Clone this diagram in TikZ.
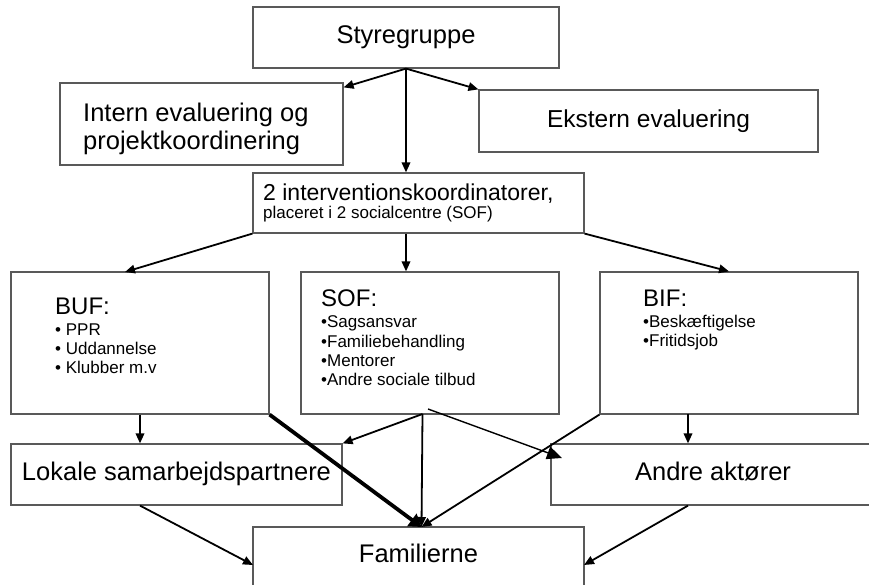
\documentclass[tikz,border=0pt]{standalone}
\usepackage{fontspec}
\setmainfont{Liberation Sans}
\usetikzlibrary{arrows.meta,calc}
\begin{document}
\begin{tikzpicture}[x=1pt,y=-1pt,
  box/.style={draw=black!65, line width=1.2pt, inner sep=0pt, anchor=center},
  big/.style={font=\fontsize{25.5}{28}\selectfont, text height=18.3pt, text depth=5.4pt},
  arr/.style={line width=1.8pt, -{Triangle[length=10pt,width=8.5pt]}},
  thickarr/.style={line width=3.8pt, -{Triangle[length=12pt,width=15pt]}},
  thinarr/.style={line width=1.4pt, -{Triangle[length=15pt,width=13pt]}},
  txt/.style={inner sep=0pt, anchor=north west, align=left},
]
\useasboundingbox (0,0) rectangle (869,585);
\fill[white] (0,0) rectangle (869,585);

% boxes
\node[box, big, minimum width=306pt, minimum height=61pt] (sty) at (406,37.5) {Styregruppe};
\node[box, minimum width=283pt, minimum height=82pt] (intern) at (201.5,124) {};
\node[box, font=\fontsize{24.5}{28}\selectfont, text height=17.6pt, text depth=5.2pt, minimum width=339pt, minimum height=62pt] (ekst) at (648.5,121) {Ekstern evaluering};
\node[box, minimum width=331pt, minimum height=60pt] (inter) at (418.5,203) {};
\node[box, minimum width=258pt, minimum height=142pt] (buf) at (140,343) {};
\node[box, minimum width=258pt, minimum height=142pt] (sof) at (430,343) {};
\node[box, minimum width=258pt, minimum height=142pt] (bif) at (729,343) {};
\node[box, big, minimum width=331pt, minimum height=61pt] (lok) at (176.5,474.5) {Lokale samarbejdspartnere};
\node[box, big, minimum width=324pt, minimum height=61pt] (andre) at (713,474.5) {Andre aktører};
\node[box, big, minimum width=331pt, minimum height=59pt] (fam) at (418.5,556.5) {Familierne};

% texts inside boxes
\node[txt, font=\fontsize{25.5}{27.5}\selectfont] (interntxt) at (83,103.3) {Intern evaluering og\\projektkoordinering};
\node[txt, font=\fontsize{17}{18.5}\selectfont] (intertxt) at (263,183.5) {{\fontsize{23}{18.5}\selectfont 2 interventionskoordinatorer,}\\placeret i 2 socialcentre (SOF)};
\node[txt, font=\fontsize{17}{19}\selectfont] (buftxt) at (55,297.8) {{\fontsize{24}{19}\selectfont BUF:}\\[2pt]• PPR\\• Uddannelse\\• Klubber m.v};
\node[txt, font=\fontsize{17}{19.3}\selectfont] (softxt) at (321,289.5) {{\fontsize{24}{19.3}\selectfont SOF:}\\[2.2pt]•Sagsansvar\\•Familiebehandling\\•Mentorer\\•Andre sociale tilbud};
\node[txt, font=\fontsize{17}{19}\selectfont] (biftxt) at (643,289.8) {{\fontsize{24}{19}\selectfont BIF:}\\[2pt]•Beskæftigelse\\•Fritidsjob};

% connector points
\coordinate (bufin) at (125,272);
\coordinate (sofout) at (422.5,414);
\coordinate (sofout2) at (428,409);
\coordinate (andrein) at (562,458);
\coordinate (famin) at (421.5,527);
\coordinate (bifout) at (688,414);
\coordinate (famleft) at (253,565);
\coordinate (famright) at (584,565);

% connectors
\draw[arr] (sty.south) -- ($(intern.north east)+(0,5)$);
\draw[arr] (sty.south) -- (ekst.north west);
\draw[arr] (sty.south) -- (sty.south |- inter.north);
\draw[arr] (inter.south west) -- (bufin);
\draw[arr] (sty.south |- inter.south) -- (sty.south |- sof.north);
\draw[arr] (inter.south east) -- (bif.north);
\draw[arr] (buf.south) -- (buf.south |- lok.north);
\draw[thickarr] (buf.south east) -- (famin);
\draw[arr] (sofout) -- (lok.north east);
\draw[arr] (sofout) -- (famin);
\draw[thinarr] (sofout2) -- (andrein);
\draw[arr] (bif.south west) -- (famin);
\draw[arr] (bifout) -- (bifout |- andre.north);
\draw[arr] (buf.south |- lok.south) -- (famleft);
\draw[arr] (bifout |- andre.south) -- (famright);
\end{tikzpicture}
\end{document}
